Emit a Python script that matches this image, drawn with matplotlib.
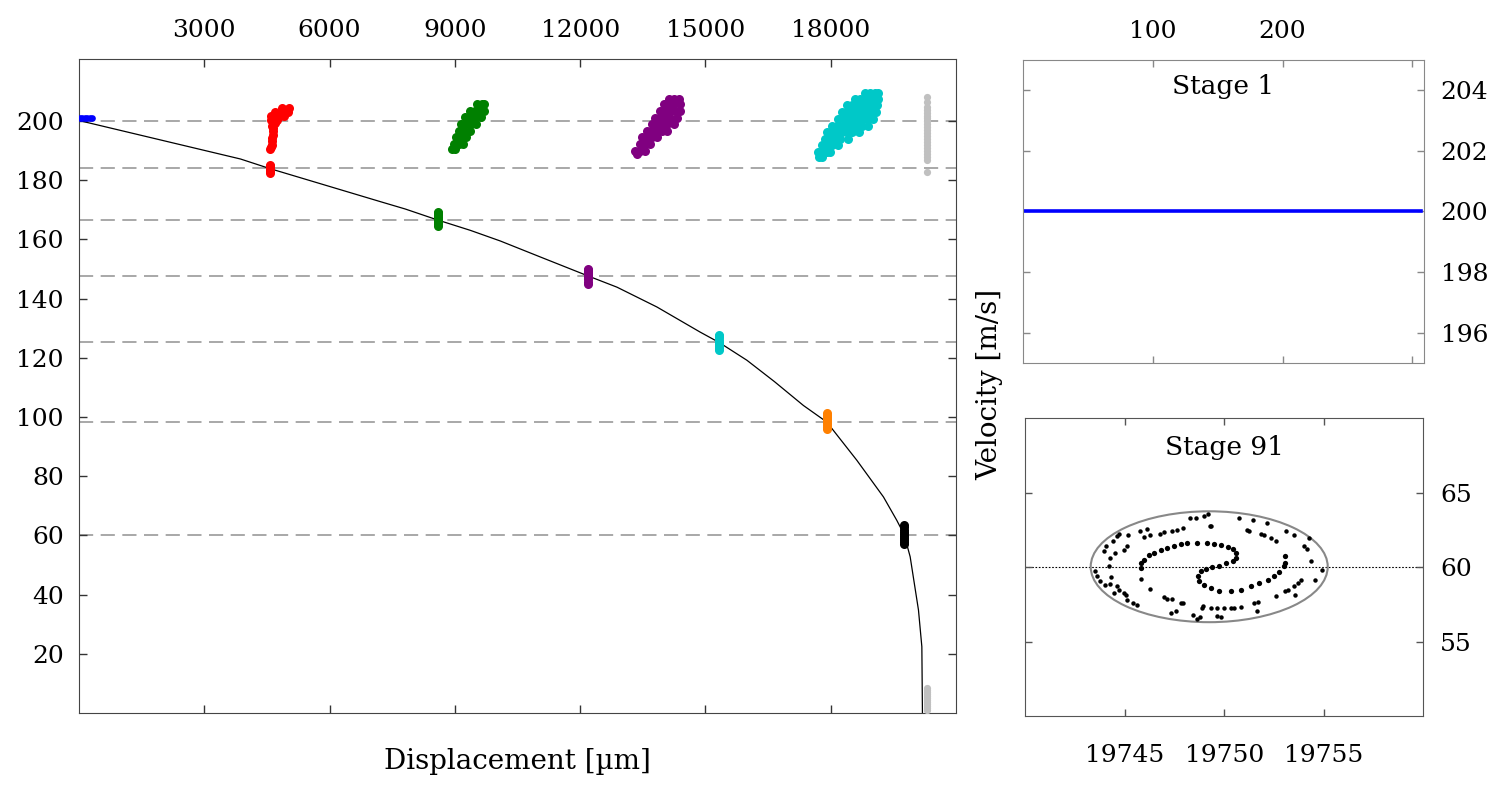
import numpy as np
import matplotlib.pyplot as plt
from matplotlib.patches import Ellipse

plt.rcParams['font.family'] = ['DejaVu Serif']
plt.rcParams['mathtext.fontset'] = 'dejavuserif'

# ---- main panel data: displacement [um] vs velocity [m/s] ----
curve_x = [0, 3866, 4560, 7213, 7812, 8585, 9368, 10087, 11045, 12186, 12880,
           13837, 14874, 15329, 15992, 16650, 17347, 17907, 18625, 19263,
           19582, 19758, 19902, 20101, 20182, 20196]
curve_v = [200.2, 187.2, 184.0, 172.8, 170.3, 166.6, 163.1, 159.5, 154.1, 147.7,
           143.9, 137.2, 128.7, 125.2, 119.2, 112.0, 103.9, 98.3, 85.4, 73.0,
           65.1, 60.3, 52.8, 34.8, 22.4, 0.0]

stage_v = [200.0, 184.0, 166.6, 147.7, 125.2, 98.3, 60.3]

blue_x = [20, 80, 140, 200, 260, 320]
blue_v = [200.9, 200.9, 200.9, 200.9, 200.9, 200.9]

red_x = [4859, 5019, 4700, 4859, 5000, 4596, 4700, 4800, 4899, 4596, 4740,
         4620, 4700, 4636, 4636, 4636, 4628, 4620, 4612, 4604, 4584,
         4564, 4564, 4564, 4564, 4564, 4564]
red_v = [204.3, 204.3, 203.0, 203.0, 203.0, 201.6, 201.6, 201.6, 201.6, 200.5, 200.5,
         198.5, 199.2, 197.6, 196.5, 195.4, 194.3, 193.2, 192.1, 191.2, 190.5,
         182.4, 183.0, 183.6, 184.2, 184.8, 185.3]

green_x = [9528, 9648, 9707, 9368, 9488, 9608, 9707, 9249, 9368, 9488, 9628,
           9149, 9268, 9388, 9508, 9109, 9229, 9368, 9029, 9149, 9268,
           8973, 9089, 9189, 8925, 9009,
           8585, 8585, 8585, 8585, 8585, 8585, 8585, 8585, 8585]
green_v = [205.8, 205.8, 205.8, 203.5, 203.5, 203.5, 203.5, 201.3, 201.3, 201.3, 201.3,
           199.1, 199.1, 199.1, 199.1, 196.8, 196.8, 196.8, 194.5, 194.5, 194.5,
           192.3, 192.3, 192.3, 190.6, 190.6,
           164.6, 165.2, 165.8, 166.4, 167.0, 167.6, 168.2, 168.8, 169.2]

purple_x = [14116, 14236, 14356, 13997, 14116, 14236, 14395, 13917, 14036, 14156,
            14276, 14395, 13797, 13917, 14036, 14156, 14316, 13717, 13837, 13957,
            14076, 14236, 13598, 13717, 13837, 13957, 14076, 13478, 13598, 13717,
            13837, 13438, 13558, 13677, 13318, 13438, 13558, 13358,
            12186, 12186, 12186, 12186, 12186, 12186, 12186, 12186, 12186]
purple_v = [207.6, 207.6, 207.6, 205.7, 205.7, 205.7, 205.7, 203.5, 203.5, 203.5,
            203.5, 203.5, 201.2, 201.2, 201.2, 201.2, 201.2, 199.0, 199.0, 199.0,
            199.0, 199.0, 196.7, 196.7, 196.7, 196.7, 196.7, 194.5, 194.5, 194.5,
            194.5, 192.2, 192.2, 192.2, 190.0, 190.0, 190.0, 188.8,
            145.1, 145.8, 146.5, 147.2, 147.9, 148.6, 149.3, 149.8, 150.0]

cyan_x = [18824, 18944, 19064, 19120, 18585, 18705, 18824, 18944, 19064, 19130,
          18386, 18505, 18625, 18745, 18864, 18984, 19104, 18266, 18386, 18505,
          18625, 18745, 18864, 18984, 19080, 18186, 18306, 18425, 18545, 18665,
          18784, 18904, 19024, 18026, 18146, 18266, 18386, 18505, 18625, 18745,
          18904, 17907, 18026, 18146, 18266, 18386, 18505, 18665, 17867, 17987,
          18106, 18226, 18425, 17787, 17907, 18026, 18186, 17690, 17787, 17907,
          17987, 17720, 17787,
          15329, 15329, 15329, 15329, 15329, 15329, 15329, 15329, 15329]
cyan_v = [209.4, 209.4, 209.4, 209.4, 207.6, 207.6, 207.6, 207.6, 207.6, 207.6,
          205.3, 205.3, 205.3, 205.3, 205.3, 205.3, 205.3, 203.1, 203.1, 203.1,
          203.1, 203.1, 203.1, 203.1, 203.1, 200.8, 200.8, 200.8, 200.8, 200.8,
          200.8, 200.8, 200.8, 198.5, 198.5, 198.5, 198.5, 198.5, 198.5, 198.5,
          198.5, 196.3, 196.3, 196.3, 196.3, 196.3, 196.3, 196.3, 194.1, 194.1,
          194.1, 194.1, 194.1, 191.8, 191.8, 191.8, 191.8, 189.6, 189.6, 189.6,
          189.6, 188.0, 188.0,
          122.7, 123.4, 124.1, 124.8, 125.5, 126.2, 126.9, 127.5, 127.7]

orange_x = [17907, 17907, 17907, 17907, 17907, 17907, 17907, 17907, 17907]
orange_v = [95.9, 96.6, 97.3, 98.0, 98.7, 99.4, 100.1, 100.8, 101.3]

black_x = [19758, 19758, 19758, 19758, 19758, 19758, 19758, 19758, 19758, 19758]
black_v = [57.1, 57.8, 58.5, 59.2, 59.9, 60.6, 61.3, 62.0, 62.8, 63.6]

grey_x = [20295] * 34
grey_v = [0.9, 1.6, 2.3, 3.0, 3.7, 4.4, 5.1, 5.8, 6.5, 7.2, 7.9, 8.4,
          182.9, 186.9, 187.9, 188.9, 189.9, 190.9, 191.9, 192.9, 193.9, 194.9,
          195.9, 196.9, 197.9, 198.9, 199.9, 200.9, 201.9, 202.9, 203.9, 204.9,
          206.4, 208.0]

# ---- stage 1 ----
stage1_x = [0, 307]
stage1_v = [200.0, 200.0]

# ---- stage 91 ----
s91_outer_x = [19743.98, 19744.08, 19744.42, 19744.62, 19744.71, 19745.16, 19745.76,
               19746.13, 19746.00, 19746.30, 19746.77, 19746.97, 19747.39, 19747.65,
               19747.95, 19748.29, 19748.57, 19748.99, 19749.19, 19749.29, 19749.36,
               19750.76, 19751.14, 19751.26, 19751.43, 19751.85, 19752.02, 19752.15,
               19752.35, 19752.61, 19753.11, 19753.50, 19754.03, 19754.17, 19754.24,
               19754.37, 19754.91, 19754.57, 19753.87, 19753.70, 19753.50, 19753.23,
               19753.03, 19752.61, 19753.56, 19751.68, 19751.51, 19751.65, 19750.84,
               19750.50, 19750.34, 19749.97, 19749.66, 19749.33, 19748.91, 19748.96,
               19749.66, 19749.83, 19748.79, 19748.66, 19748.42, 19747.82, 19747.95,
               19747.56, 19747.31, 19746.97, 19747.14, 19747.39, 19746.27, 19745.60,
               19745.43, 19745.13, 19745.09, 19744.96, 19744.71, 19744.62, 19744.45,
               19744.29, 19744.03, 19743.78, 19743.61, 19743.53, 19744.20, 19744.29,
               19744.54, 19744.99, 19745.13, 19744.32, 19745.80]
s91_outer_v = [61.12, 61.41, 61.74, 62.08, 62.24, 62.15, 62.46, 62.57, 62.01, 62.13,
               62.26, 62.35, 62.44, 62.53, 62.64, 63.31, 63.31, 63.47, 63.60, 62.80,
               62.75, 63.31, 62.53, 62.46, 63.20, 62.26, 62.19, 62.98, 61.97, 61.74,
               62.42, 62.13, 61.45, 61.19, 61.97, 60.40, 59.84, 59.13, 59.17, 58.95,
               58.72, 58.50, 58.39, 58.05, 58.10, 57.65, 57.61, 57.05, 57.34, 57.27,
               57.27, 57.25, 57.27, 57.27, 57.27, 57.38, 56.71, 56.67, 56.67, 56.49,
               56.82, 57.61, 57.61, 57.05, 56.89, 58.01, 57.87, 57.83, 58.55, 57.49,
               57.61, 57.79, 58.10, 58.28, 58.50, 58.72, 58.28, 58.84, 58.77, 59.06,
               59.40, 59.73, 60.07, 60.63, 60.96, 61.14, 61.41, 59.35, 59.22]
s91_inner_x = [19745.80, 19745.85, 19745.97, 19746.22, 19746.47, 19746.81, 19747.14,
               19747.48, 19747.82, 19748.15, 19748.66, 19749.16, 19749.50, 19749.83,
               19750.17, 19750.42, 19750.59, 19750.59, 19750.42, 19750.08, 19749.75,
               19749.41, 19749.08, 19748.82, 19748.69, 19748.74, 19748.99, 19749.33,
               19749.75, 19750.34, 19750.84, 19751.34, 19751.76, 19752.18, 19752.52,
               19752.77, 19752.99, 19753.06, 19753.03]
s91_inner_v = [59.96, 60.29, 60.51, 60.81, 60.96, 61.14, 61.30, 61.45, 61.59, 61.63,
               61.63, 61.63, 61.59, 61.48, 61.36, 61.19, 60.96, 60.63, 60.40, 60.25,
               60.11, 60.02, 59.91, 59.73, 59.44, 59.06, 58.77, 58.57, 58.43, 58.43,
               58.50, 58.72, 58.95, 59.13, 59.40, 59.66, 60.07, 60.29, 60.78]
ell_center = (19749.25, 60.03)
ell_width = 11.9
ell_height = 7.45
s91_level = 60.0

fs = 18
fig = plt.figure(figsize=(15.06, 7.97), dpi=100)

# ---------------- main panel ----------------
ax = fig.add_axes([0.0525, 0.1054, 0.5823, 0.8206])
for v in stage_v:
    ax.axhline(v, color='#999999', lw=1.2, dashes=(8.5, 4.5), zorder=1)
ax.plot(curve_x, curve_v, color='black', lw=0.9, zorder=2)
groups = [(red_x, red_v, '#ff0000'), (green_x, green_v, '#008000'),
          (purple_x, purple_v, '#800080'), (cyan_x, cyan_v, '#00c8c8'),
          (orange_x, orange_v, '#ff8000'), (black_x, black_v, 'black')]
for gx, gv, c in groups:
    ax.plot(gx, gv, 'o', color=c, ms=6.5, mew=0, zorder=3)
ax.plot(blue_x, blue_v, 'o', color='#0000ff', ms=4.8, mew=0, zorder=3)
ax.plot(grey_x, grey_v, 'o', color='#c0c0c0', ms=5.2, mew=0, zorder=3)
ax.set_xlim(0, 21000)
ax.set_ylim(0, 221)
ax.set_xticks(np.arange(3000, 18001, 3000))
ax.set_yticks(np.arange(20, 201, 20))
ax.tick_params(axis='x', top=True, bottom=True, labeltop=True, labelbottom=False,
               direction='in', length=6, width=1, pad=12, labelsize=fs, colors='#333333',
               labelcolor='black')
ax.tick_params(axis='y', left=True, right=True, labelleft=True, direction='in',
               length=6, width=1, pad=11, labelsize=fs, colors='#333333',
               labelcolor='black')
for s in ax.spines.values():
    s.set_color('#444444')
fig.text(0.3436, 0.044, 'Displacement [µm]', ha='center', va='center', fontsize=fs + 2)

# ---------------- stage 1 ----------------
ax1 = fig.add_axes([0.6793, 0.5446, 0.2663, 0.3802])
ax1.plot(stage1_x, stage1_v, color='#0000ff', lw=2.6)
ax1.set_xlim(0, 309)
ax1.set_ylim(195, 205)
ax1.set_xticks([100, 200, 300])
ax1.set_xticklabels(['100', '200', ''])
ax1.set_yticks([196, 198, 200, 202, 204])
ax1.tick_params(axis='x', top=True, bottom=True, labeltop=True, labelbottom=False,
                direction='in', length=5, width=1, pad=12, labelsize=fs, colors='#888888',
                labelcolor='black')
ax1.tick_params(axis='y', left=True, right=True, labelleft=False, labelright=True,
                direction='in', length=5, width=1, pad=12, labelsize=fs, colors='#888888',
                labelcolor='black')
for s in ax1.spines.values():
    s.set_color('#888888')
ax1.text(0.5, 0.955, 'Stage 1', transform=ax1.transAxes, ha='center', va='top',
         fontsize=fs + 1)

# ---------------- stage 91 ----------------
ax2 = fig.add_axes([0.6806, 0.1016, 0.2645, 0.3735])
ax2.axhline(s91_level, color='black', lw=0.8, ls=(0, (1.5, 1.5)), zorder=1)
ax2.add_patch(Ellipse(ell_center, ell_width, ell_height, fill=False,
                      edgecolor='#888888', lw=1.5, zorder=2))
ax2.plot(s91_outer_x, s91_outer_v, 'o', color='black', ms=3.2, mew=0, zorder=3)
ax2.plot(s91_inner_x, s91_inner_v, 'o', color='black', ms=3.8, mew=0, zorder=3)
ax2.set_xlim(19740, 19760)
ax2.set_ylim(50, 70)
ax2.set_xticks([19745, 19750, 19755])
ax2.set_yticks([55, 60, 65])
ax2.tick_params(axis='x', top=True, bottom=True, labeltop=False, labelbottom=True,
                direction='in', length=5, width=1, pad=20, labelsize=fs, colors='#555555',
                labelcolor='black')
ax2.tick_params(axis='y', left=True, right=True, labelleft=False, labelright=True,
                direction='in', length=5, width=1, pad=12, labelsize=fs, colors='#555555',
                labelcolor='black')
ax2.ticklabel_format(useOffset=False)
for s in ax2.spines.values():
    s.set_color('#555555')
ax2.text(0.5, 0.945, 'Stage 91', transform=ax2.transAxes, ha='center', va='top',
         fontsize=fs + 1)

fig.text(0.657, 0.518, 'Velocity [m/s]', rotation=90, ha='center', va='center',
         fontsize=fs + 2)

fig.savefig('out.png', dpi=100)
